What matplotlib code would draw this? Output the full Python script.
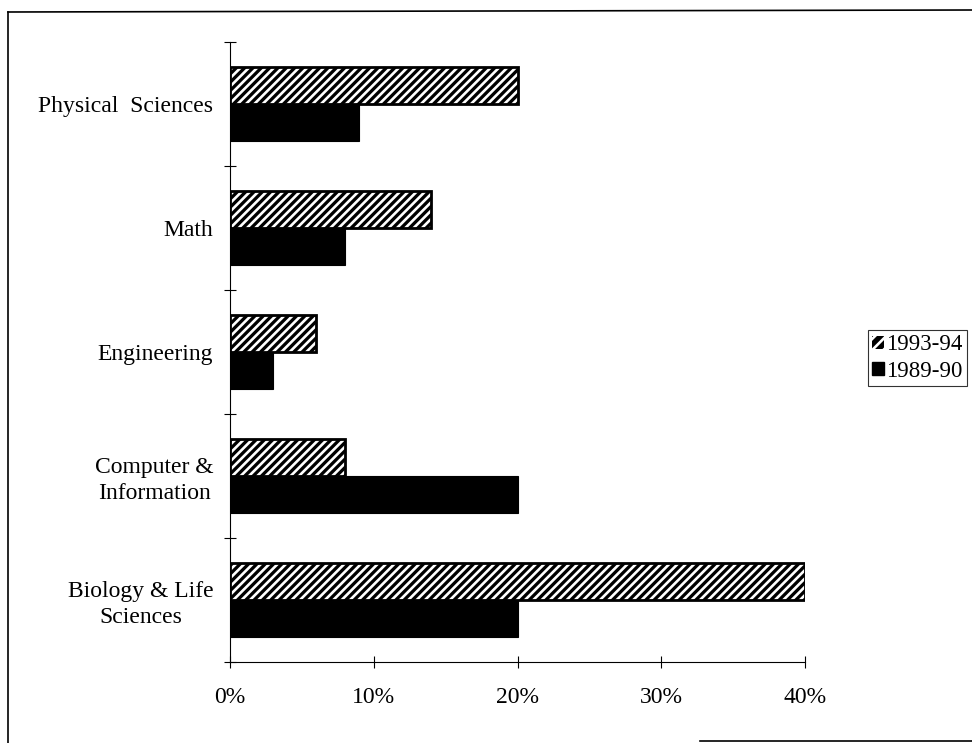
import matplotlib
matplotlib.use("Agg")
import matplotlib.pyplot as plt
from matplotlib.patches import Patch
from matplotlib.lines import Line2D
import numpy as np

categories = ["Biology & Life\nSciences", "Computer &\nInformation", "Engineering", "Math", "Physical  Sciences"]
vals_1993 = [40, 8, 6, 14, 20]
vals_1989 = [20, 20, 3, 8, 9]
xticks = [0, 10, 20, 30, 40]
xticklabels = ["0%", "10%", "20%", "30%", "40%"]

plt.rcParams['font.family'] = ['Liberation Serif', 'DejaVu Serif']
plt.rcParams['hatch.linewidth'] = 1.9
plt.rcParams['hatch.color'] = 'white'

fig = plt.figure(figsize=(9.72, 7.43), dpi=100)
ax = fig.add_axes([230/972, 1-662/743, (805-230)/972, (662-42)/743])

y = np.arange(len(categories))
h = 0.3
ax.barh(y + h/2, vals_1993, height=h, color='black', edgecolor='white', hatch='////', linewidth=0)
ax.barh(y + h/2, vals_1993, height=h, fill=False, edgecolor='black', linewidth=2.0)
ax.barh(y - h/2, vals_1989, height=h, color='black', edgecolor='black', linewidth=0.8)

ax.set_xlim(0, 40)
ax.set_ylim(-0.5, len(categories) - 0.5)
ax.set_xticks(xticks)
ax.set_xticklabels(xticklabels, fontsize=17)
ax.set_yticks(y)
ax.set_yticklabels(categories, fontsize=17)
for lbl in ax.get_yticklabels():
    lbl.set_multialignment('center')
    lbl.set_linespacing(1.3)
ax.set_yticks(np.arange(-0.5, len(categories), 1.0), minor=True)
ax.tick_params(axis='y', which='major', length=0, pad=12)
ax.tick_params(axis='y', which='minor', length=8, direction='inout', width=0.8)
ax.tick_params(axis='x', which='major', length=8, direction='inout', width=0.8, pad=14)
for s in ['top', 'right']:
    ax.spines[s].set_visible(False)
for s in ['left', 'bottom']:
    ax.spines[s].set_linewidth(0.8)

handles = [Patch(facecolor='black', edgecolor='white', hatch='///', linewidth=0),
           Patch(facecolor='black', edgecolor='black')]
leg = fig.legend(handles, ["1993-94", "1989-90"], loc='center left',
                 bbox_to_anchor=(868/972, 1-358/743), fontsize=16.5,
                 frameon=True, fancybox=False, shadow=False,
                 handlelength=0.5, handleheight=0.5, handletextpad=0.12,
                 borderpad=0.18, labelspacing=0.22, borderaxespad=0)
leg.get_frame().set_edgecolor('black')
leg.get_frame().set_linewidth(0.8)

# outer frame of the scanned page
fig.add_artist(Line2D([8/972, 8/972], [0, 1-12/743], color='black', linewidth=1.2, transform=fig.transFigure))
fig.add_artist(Line2D([8/972, 1], [1-12/743, 1-10/743], color='black', linewidth=1.2, transform=fig.transFigure))
fig.add_artist(Line2D([700/972, 1], [2/743, 2/743], color='black', linewidth=1.2, transform=fig.transFigure))

fig.savefig("out.png", dpi=100)
